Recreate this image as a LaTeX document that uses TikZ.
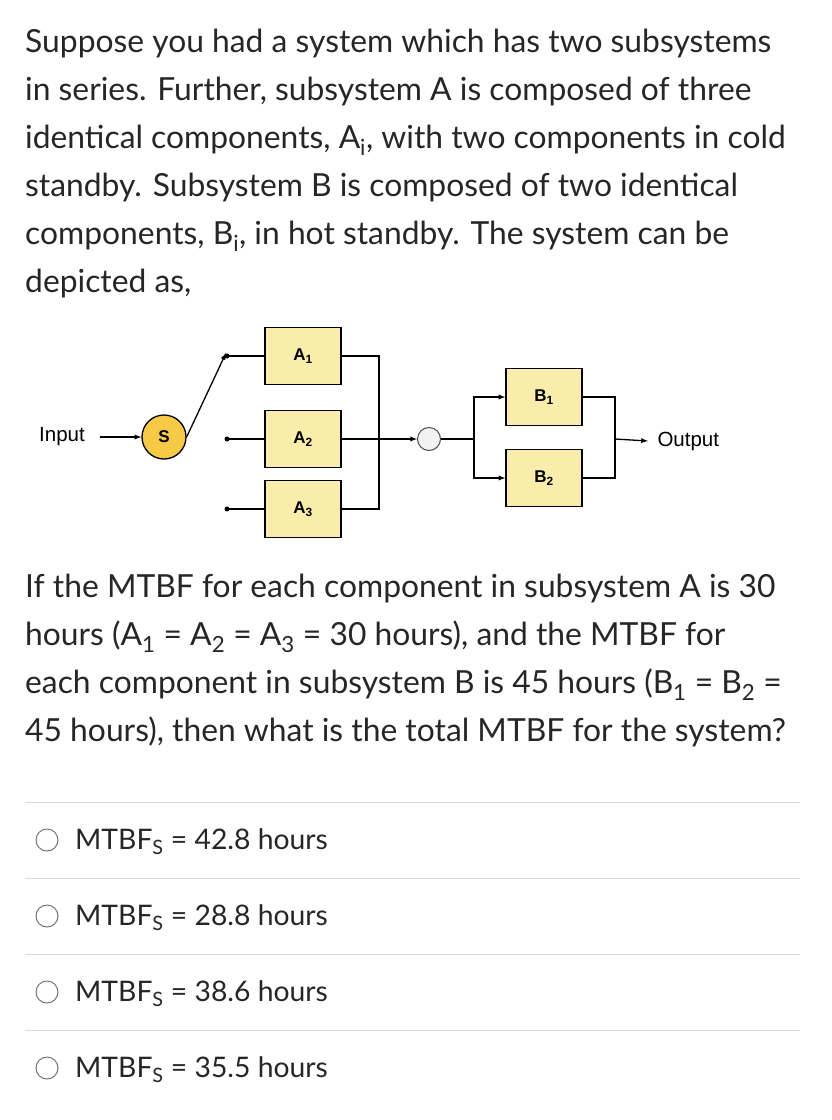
\documentclass[tikz,border=0pt]{standalone}
\usepackage{fontspec}
\setmainfont{Lato}
\newfontfamily\arialf{Liberation Sans}
\definecolor{boxf}{RGB}{250,236,170}
\definecolor{sf}{RGB}{246,201,70}
\begin{document}
\begin{tikzpicture}[x=1pt,y=-1pt,
 txt/.style={anchor=base west,inner sep=0pt,font=\fontsize{31.8}{38}\selectfont,text=black!85},
 blk/.style={draw=black,line width=1.3pt,fill=boxf,minimum width=76pt,minimum height=57pt,inner sep=0pt,font=\arialf\bfseries\fontsize{17}{20}\selectfont},
 ln/.style={line width=1.3pt},
 arr/.style={ln,-latex},
 opt/.style={draw=black!55,line width=1pt,circle,minimum size=22pt,inner sep=0pt},
 sep/.style={draw=black!15,line width=1pt},
 dia/.style={font=\arialf\fontsize{20.5}{24}\selectfont}]
\useasboundingbox (0,0) rectangle (832,1120);
\node[txt] (l1) at (25,52) {Suppose you had a system which has two subsystems};
\node[txt] (l2) at (25,100) {in series. Further, subsystem A is composed of three};
\node[txt] (l3) at (25,148) {identical components, A\textsubscript{i}, with two components in cold};
\node[txt] (l4) at (25,196) {standby. Subsystem B is composed of two identical};
\node[txt] (l5) at (25,244) {components, B\textsubscript{i}, in hot standby. The system can be};
\node[txt] (l6) at (25,292) {depicted as,};
% diagram
\node[dia,anchor=center] (in) at (62,437) {Input};
\node[draw,line width=1.3pt,fill=sf,circle,minimum size=44pt,inner sep=0pt,font=\arialf\bfseries\fontsize{17}{20}\selectfont] (s) at (164,437) {S};
\draw[arr] (100,437) coordinate (ie) -- (s.west);
\node[blk] (a1) at (303,356) {A\textsubscript{1}};
\node[blk] (a2) at (303,439) {A\textsubscript{2}};
\node[blk] (a3) at (303,509) {A\textsubscript{3}};
\coordinate (d1) at (227,356);
\coordinate (d2) at (227,439);
\coordinate (d3) at (227,509);
\foreach \d in {d1,d2,d3} \fill (\d) circle (2.5pt);
\draw[ln] (d1) -- (a1.west); \draw[ln] (d2) -- (a2.west); \draw[ln] (d3) -- (a3.west);
\draw[arr] (s.east) -- ([xshift=-1pt,yshift=3pt]d1);
\coordinate (bus) at (379,439);
\node[draw=black!70,line width=1pt,fill=black!5,circle,minimum size=23pt,inner sep=0pt] (c) at (429,439) {};
\draw[ln] (a1.east) -| (bus |- a3.east) -- (a3.east);
\draw[arr] (a2.east) -- (c.west);
\node[blk] (b1) at (544,397) {B\textsubscript{1}};
\node[blk] (b2) at (544,478) {B\textsubscript{2}};
\coordinate (sp) at (474,439);
\draw[ln] (c.east) -- (sp);
\draw[arr] (sp) |- (b1.west);
\draw[arr] (sp) |- (b2.west);
\coordinate (jn) at (615,439);
\draw[ln] (b1.east) -| (jn |- b2.east) -- (b2.east);
\node[dia,anchor=west] (out) at (654,441) {Output};
\draw[arr] (jn) -- ([xshift=-6pt]out.west);
% question
\node[txt] (q1) at (25,597) {If the MTBF for each component in subsystem A is 30};
\node[txt] (q2) at (25,645) {hours (A\textsubscript{1} = A\textsubscript{2} = A\textsubscript{3} = 30 hours), and the MTBF for};
\node[txt] (q3) at (25,693) {each component in subsystem B is 45 hours (B\textsubscript{1} = B\textsubscript{2} =};
\node[txt] (q4) at (25,741) {45 hours), then what is the total MTBF for the system?};
\foreach \yy in {802,878,954,1030} \draw[sep] (25,\yy) -- (800,\yy);
\node[opt] (o1) at (47,840) {};
\node[opt] (o2) at (47,916) {};
\node[opt] (o3) at (47,992) {};
\node[opt] (o4) at (47,1068) {};
\begin{scope}[every node/.style={txt,font=\fontsize{28.3}{34}\selectfont}]
\node (t1) at (75,849) {MTBF\textsubscript{S} = 42.8 hours};
\node (t2) at (75,925) {MTBF\textsubscript{S} = 28.8 hours};
\node (t3) at (75,1001) {MTBF\textsubscript{S} = 38.6 hours};
\node (t4) at (75,1077) {MTBF\textsubscript{S} = 35.5 hours};
\end{scope}
\end{tikzpicture}
\end{document}
